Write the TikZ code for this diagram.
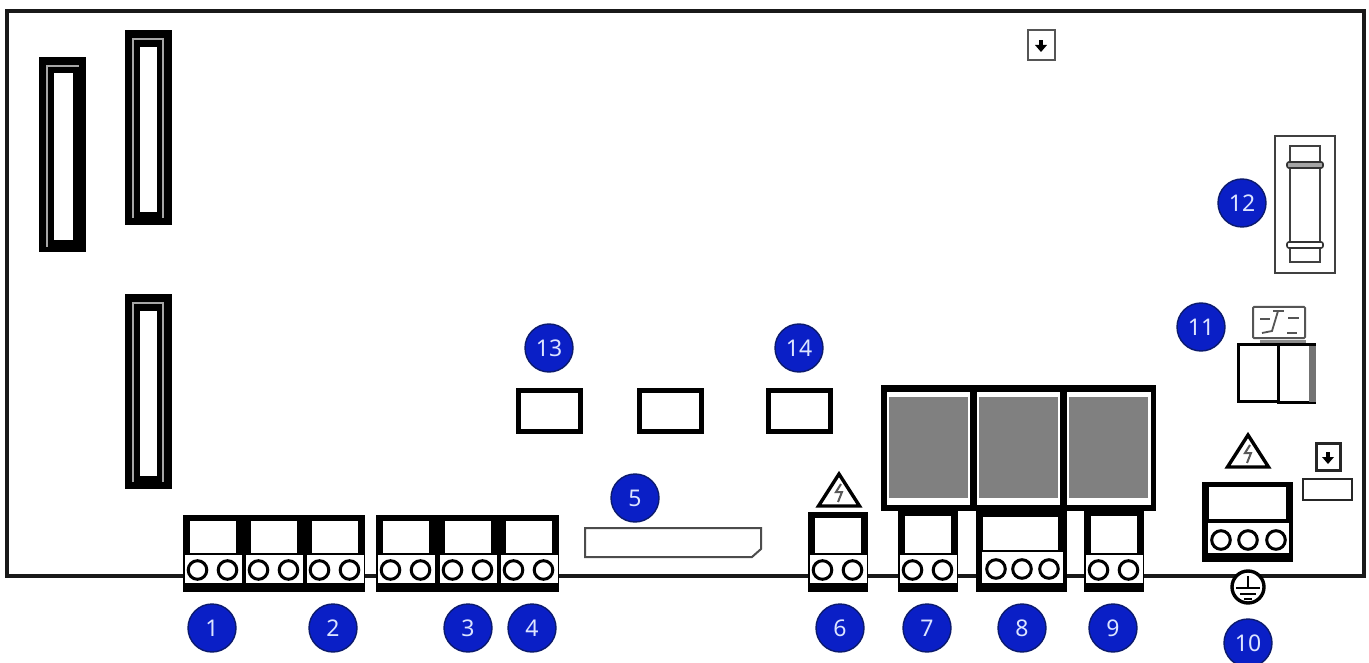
\documentclass[tikz,border=0pt]{standalone}
\usepackage{fontspec}
\setmainfont{Noto Sans}
\definecolor{badgeblue}{HTML}{0A1FC6}
\definecolor{badgeedge}{HTML}{0B1A6E}
\definecolor{badgetext}{HTML}{DCE4FF}
\definecolor{relaygray}{HTML}{808080}
\definecolor{icongray}{HTML}{555555}
\tikzset{
  badge/.style={circle,fill=badgeblue,draw=badgeedge,line width=1.4pt,minimum size=48pt,inner sep=0pt,text=badgetext,font=\fontsize{23}{23}\selectfont},
  pin/.style={draw=black,fill=white,line width=3pt},
  board/.style={line width=3.2pt,draw=black!90},
  gline/.style={draw=black!35,line width=2.6pt,line cap=butt},
  thickbox/.style={draw=black,fill=white,line width=5pt},
  thinbox/.style={draw=black!75,fill=white,line width=1.6pt},
  warn/.style={draw=black,fill=white,line width=3.4pt,line join=miter},
  bolt/.style={draw=black!65,line width=2pt,fill=none}
}
\newcommand\bigconn[2]{\begin{scope}[shift={(#1,#2)}]
  \fill[black] (0,0) rectangle (47,195);
  \fill[white] (15,17) rectangle (32,182);
  \draw[gline] (8,188) -- (8,9) -- (38,9) -- (38,188);
\end{scope}}
\newcommand\bigconnL[2]{\begin{scope}[shift={(#1,#2)}]
  \fill[black] (0,0) rectangle (47,195);
  \fill[white] (15,16) rectangle (34,183);
  \draw[gline] (8,190) -- (8,9) -- (40,9);
\end{scope}}
% two-way terminal block openings: left, top
\newcommand\termopen[2]{\begin{scope}[shift={(#1,0)}]
  \fill[white] (7,#2+6) rectangle (53,553);
  \fill[white] (1.5,555) rectangle (59,583);
  \draw[pin] (14.5,570) circle (9.3);
  \draw[pin] (44.5,570) circle (9.3);
\end{scope}}
\newcommand\termtwo[2]{\fill[black] (#1,#2) rectangle (#1+60,592);\termopen{#1}{#2}}
\newcommand\warntri[2]{\begin{scope}[shift={(#1,#2)}]
  \draw[warn] (0,3) -- (20.5,35) -- (-20.5,35) -- cycle;
  \draw[bolt] (2,13) -- (-3,21) -- (3,21) -- (-1,31);
\end{scope}}
\newcommand\downarrowicon[2]{\begin{scope}[shift={(#1,#2)}]
  \fill[black] (-2,-6) rectangle (2,0);
  \fill[black] (-6,-1) -- (6,-1) -- (0,6) -- cycle;
\end{scope}}
\begin{document}
\begin{tikzpicture}[x=1pt,y=-1pt]
\useasboundingbox (0,0) rectangle (1369,663);
\fill[white] (0,0) rectangle (1369,663);
% board
\draw[board] (5,576) -- (1364,576) -- (1364,11) -- (7,11) -- (7,576);

% vertical connectors
\bigconnL{39}{57}
\bigconn{125}{30}
\bigconn{125}{294}

% terminal strips
\fill[black] (183,515) rectangle (365,592);
\fill[black] (376,515) rectangle (559,592);
\termopen{183}{515}
\termopen{244}{515}
\termopen{305}{515}
\termopen{376}{515}
\termopen{438}{515}
\termopen{499}{515}
\termtwo{808}{512}
\termtwo{898}{510}
\termtwo{1084}{510}

% three-way terminal 8
\fill[black] (976,510) rectangle (1067,592);
\fill[white] (983,517) rectangle (1058,550);
\fill[white] (982,552) rectangle (1063,583);
\draw[pin] (996,569) circle (9.3);
\draw[pin] (1022,569) circle (9.3);
\draw[pin] (1049,569) circle (9.3);

% three-way terminal 10
\fill[black] (1202,482) rectangle (1293,562);
\fill[white] (1209,487) rectangle (1286,519);
\fill[white] (1208,523) rectangle (1289,553);
\draw[pin] (1221,540) circle (9.3);
\draw[pin] (1248,540) circle (9.3);
\draw[pin] (1276,540) circle (9.3);

% relays
\fill[black] (881,385) rectangle (1156,511);
\fill[white] (887,392) rectangle (970,505);
\fill[white] (977,392) rectangle (1060,505);
\fill[white] (1067,392) rectangle (1151,505);
\fill[relaygray] (889,397) rectangle (968,498);
\fill[relaygray] (979,397) rectangle (1058,498);
\fill[relaygray] (1069,397) rectangle (1148,498);

% warnings
\warntri{839}{471}
\warntri{1248}{432}

% small rectangles
\draw[thickbox] (518.5,390.5) rectangle (580.5,431.5);
\draw[thickbox] (639.5,390.5) rectangle (701.5,431.5);
\draw[thickbox] (768.5,390.5) rectangle (830.5,431.5);

% part 5
\draw[draw=black!70,fill=white,line width=2pt] (585,528) -- (761,528) -- (761,549) -- (752,557) -- (585,557) -- cycle;

% fuse
\draw[thinbox] (1275,136) rectangle (1335,273);
\draw[thinbox] (1290,146) rectangle (1320,262);
\draw[draw=black!80,fill=black!35,line width=1.6pt,rounded corners=2pt] (1287,162) rectangle (1323,168);
\draw[draw=black!80,fill=white,line width=1.6pt,rounded corners=2pt] (1287,242) rectangle (1323,248);

% switch icon
\draw[draw=icongray,fill=white,line width=2pt,rounded corners=1pt] (1253,307) rectangle (1305,338);
\begin{scope}[draw=icongray,line width=1.8pt]
  \draw (1260,319) -- (1270,319);
  \draw (1262,333) -- (1272,331) -- (1278,311);
  \draw (1273,311) -- (1284,311);
  \draw (1288,318) -- (1299,318);
  \draw[line width=2.6pt] (1287,333) -- (1297,333);
\end{scope}

% switch body
\fill[black!45] (1260,340) rectangle (1306,344);
\draw[draw=black,fill=white,line width=3pt] (1238.5,344.5) rectangle (1278,401);
\draw[draw=black,fill=white,line width=3pt] (1278,344.5) rectangle (1314.5,402);
\fill[black!55] (1309,346) rectangle (1316,402);

% arrow icons
\draw[draw=icongray,fill=white,line width=2pt] (1028,30) rectangle (1055,60);
\downarrowicon{1041}{46}
\draw[draw=black!85,fill=white,line width=3pt] (1316.5,443.5) rectangle (1340.5,470.5);
\downarrowicon{1328}{458}
\draw[draw=black!85,fill=white,line width=2.5pt] (1303,479) rectangle (1352,500);

% earth
\draw[draw=black,fill=white,line width=3.4pt] (1248,587) circle (16);
\begin{scope}[draw=black,line width=2.8pt]
  \draw (1248,576) -- (1248,588);
  \draw (1236,588) -- (1260,588);
  \draw (1240,594) -- (1256,594);
  \draw (1244,599) -- (1252,599);
\end{scope}

% badges
\node[badge] (b1) at (212,628) {1};
\node[badge] (b2) at (333,628) {2};
\node[badge] (b3) at (468,628) {3};
\node[badge] (b4) at (532,628) {4};
\node[badge] (b5) at (635,498) {5};
\node[badge] (b6) at (840,628) {6};
\node[badge] (b7) at (927,628) {7};
\node[badge] (b8) at (1022,628) {8};
\node[badge] (b9) at (1113,628) {9};
\node[badge] (b10) at (1248,643) {10};
\node[badge] (b11) at (1201,327) {11};
\node[badge] (b12) at (1242,203) {12};
\node[badge] (b13) at (549,348) {13};
\node[badge] (b14) at (799,348) {14};
\end{tikzpicture}
\end{document}
